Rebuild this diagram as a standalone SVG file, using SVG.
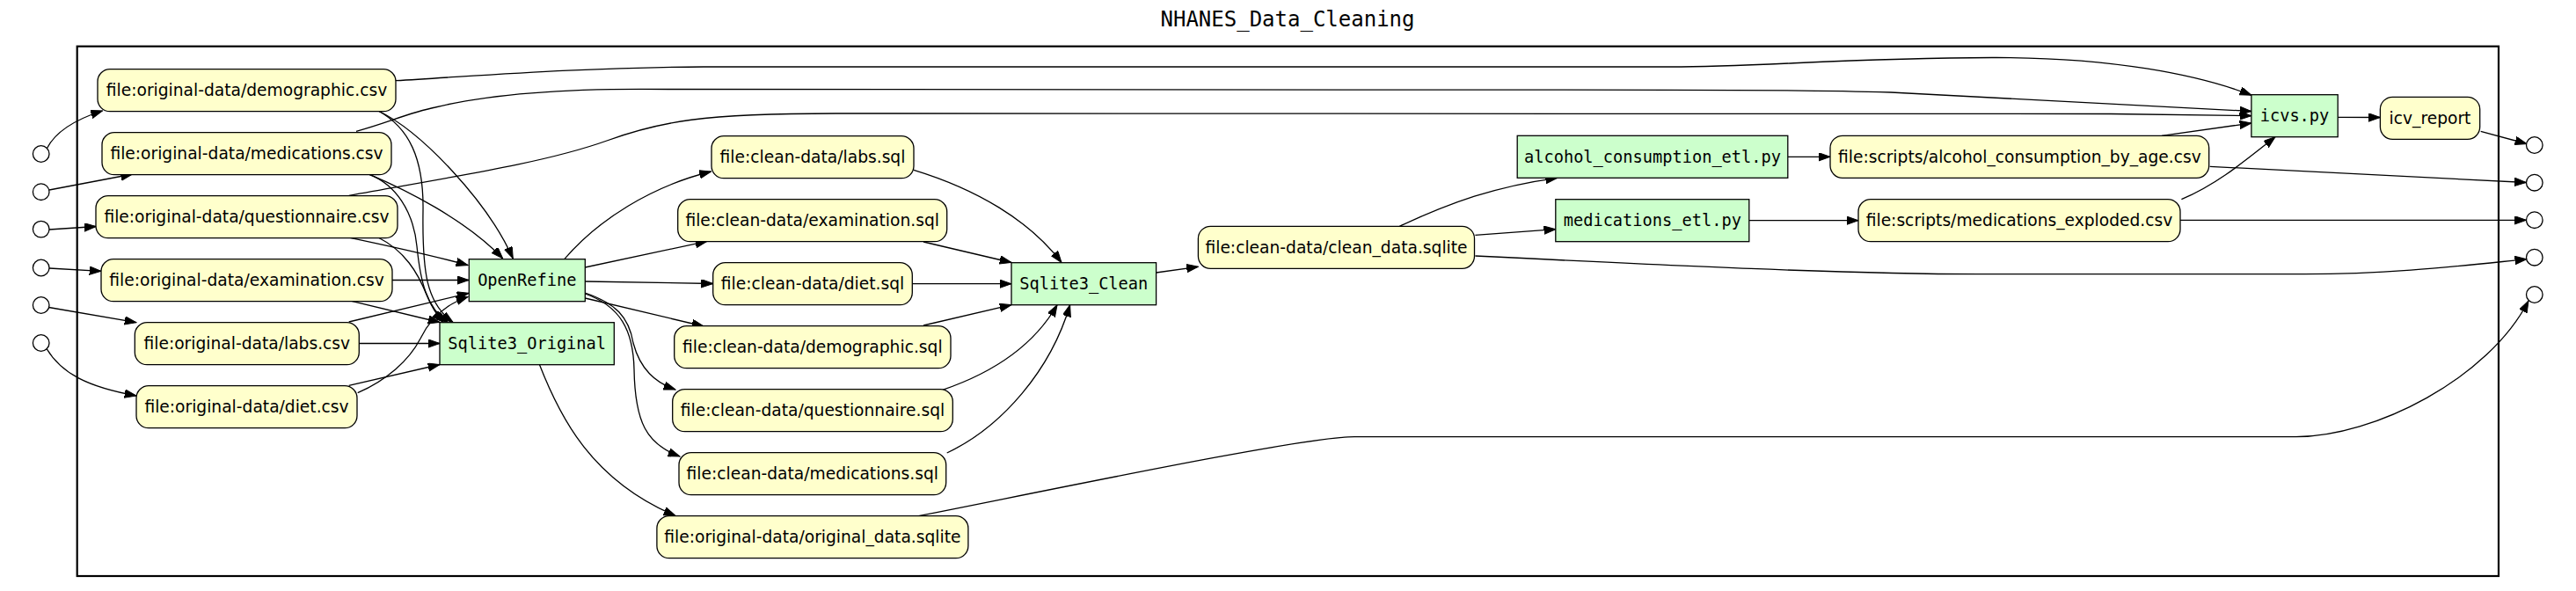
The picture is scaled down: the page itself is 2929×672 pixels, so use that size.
<svg xmlns="http://www.w3.org/2000/svg" width="2929" height="672" viewBox="0 0 2929 672">
<style>
.file rect{fill:#ffffcc;stroke:#000;stroke-width:1.3}
.proc rect{fill:#ccffcc;stroke:#000;stroke-width:1.3}
.port circle{fill:#fff;stroke:#000;stroke-width:1.3}
.file text{font-family:"DejaVu Sans",sans-serif;font-size:18.67px;text-anchor:middle;fill:#000}
.proc text{font-family:"DejaVu Sans Mono",monospace;font-size:18.67px;text-anchor:middle;fill:#000}
.title{font-family:"DejaVu Sans Mono",monospace;font-size:24px;text-anchor:middle;fill:#000}
#edges path{fill:none;stroke:#000;stroke-width:1.3;marker-end:url(#arr)}
</style>
<defs>
<marker id="arr" markerUnits="userSpaceOnUse" markerWidth="14" markerHeight="10" refX="13.3" refY="4.7" orient="auto">
<path d="M0,0 L13.3,4.7 L0,9.4 z" fill="#000" stroke="#000" stroke-width="1"/>
</marker>
</defs>
<rect width="2929" height="672" fill="#fff"/>
<text class="title" x="1464" y="30">NHANES_Data_Cleaning</text>
<rect id="cluster" x="87.7" y="52.7" width="2753.3" height="602.3" fill="none" stroke="#000" stroke-width="2.2"/>

<g id="edges">
<path d="M53.5,168.5 C62,152 82,137 116.5,126"/>
<path d="M56,216 L150.7,198"/>
<path d="M56,261 L109.3,257.5"/>
<path d="M56,305 L115,308.3"/>
<path d="M55.5,349.5 L155,366.7"/>
<path d="M52.7,396 C70,425 100,440 155,450"/>

<path d="M430,126 C480,150 555,230 583.3,294"/>
<path d="M420,198.3 C460,215 530,250 571.7,294"/>
<path d="M393.3,269.3 C430,277 490,290 532,301.5"/>
<path d="M446,318.5 L533,318.5"/>
<path d="M396.7,366 L533,333.3"/>
<path d="M406.7,446.7 C440,432 465,410 478,385 C490,360 510,345 532,337.5"/>

<path d="M430,126 C465,145 482,180 481,240 C480,310 485,345 515,366.5"/>
<path d="M420,198.3 C450,210 470,240 474,280 C478,320 485,350 509,366.5"/>
<path d="M430,270 C460,285 475,310 485,335 C492,352 498,360 504,366.5"/>
<path d="M396.7,341.7 L500,366.5"/>
<path d="M408.3,390.5 L500,390.5"/>
<path d="M396.7,438.3 L500,414.5"/>

<path d="M641.7,294.7 C680,250 740,212 808.5,195"/>
<path d="M665.3,304 L804,274.3"/>
<path d="M665.3,320 L810.7,322.5"/>
<path d="M665.3,339 L800,371"/>
<path d="M665.3,333 C700,345 715,360 720,390 C728,420 745,435 768,443"/>
<path d="M665.3,334 C705,348 720,375 721,420 C722,480 735,505 773,519"/>
<path d="M613.3,414.3 C635,470 670,545 768,586.5"/>

<path d="M1039,193.3 C1110,215 1170,250 1207,298.5"/>
<path d="M1050,275 L1150,298.5"/>
<path d="M1037.3,322.7 L1150,322.7"/>
<path d="M1050,370 L1150,346.7"/>
<path d="M1071.7,443.3 C1140,420 1180,385 1202,346.7"/>
<path d="M1076.7,515 C1140,485 1195,420 1216.6,346.7"/>

<path d="M1314.6,310 L1362.4,303.3"/>
<path d="M1591.3,257.3 C1650,230 1700,212 1770.7,202.3"/>
<path d="M1677.4,267.3 L1768.8,260.7"/>
<path d="M1677.4,291 C1900,302 2100,311.7 2250,311.7 L2620,311.7 C2720,311.7 2800,302 2872.8,294.7"/>
<path d="M2032.8,178.3 L2081,178.3"/>
<path d="M1988.8,250.7 L2113,250.7"/>
<path d="M2458,154.3 L2559.9,140"/>
<path d="M2512.7,189.3 L2872.5,207.5"/>
<path d="M2480.4,226.7 C2520,210 2550,185 2587,155.7"/>
<path d="M2479,250.3 L2872.5,250.3"/>
<path d="M2658.2,133.3 L2706.4,133.5"/>
<path d="M2820.7,149.3 L2873,163.5"/>
<path d="M1044.4,586.7 C1200,556 1480,497 1540,496.7 L2610,496.7 C2700,496.7 2830,430 2875,342"/>

<path d="M450,91.7 C550,86 650,77 800,76 L1900,76 C2000,76 2100,66 2265,65.5 C2400,65 2500,85 2560,108.3"/>
<path d="M405,149.3 C440,140 465,128 495,122 C560,106 650,100 760,101.5 L1900,102.3 C2000,102.3 2080,103 2150,105 L2559.9,126.5"/>
<path d="M396.7,222.3 C520,200 620,185 690,160 C750,138 800,129 950,129 L2400,129.5 L2559.9,131.7"/>
</g>

<g id="in1" class="port"><circle cx="46.7" cy="175" r="9.3"/></g>
<g id="in2" class="port"><circle cx="46.7" cy="218.2" r="9.3"/></g>
<g id="in3" class="port"><circle cx="46.7" cy="260.6" r="9.3"/></g>
<g id="in4" class="port"><circle cx="46.7" cy="304.5" r="9.3"/></g>
<g id="in5" class="port"><circle cx="46.7" cy="347" r="9.3"/></g>
<g id="in6" class="port"><circle cx="46.7" cy="390" r="9.3"/></g>
<g id="out1" class="port"><circle cx="2881.8" cy="165" r="9.3"/></g>
<g id="out2" class="port"><circle cx="2881.8" cy="207.7" r="9.3"/></g>
<g id="out3" class="port"><circle cx="2881.8" cy="250.2" r="9.3"/></g>
<g id="out4" class="port"><circle cx="2881.8" cy="292.7" r="9.3"/></g>
<g id="out5" class="port"><circle cx="2881.8" cy="335" r="9.3"/></g>

<g id="demographic_csv" class="file"><rect x="111" y="78.7" width="339" height="48" rx="14"/><text x="280.5" y="109.3">file:original-data/demographic.csv</text></g>
<g id="medications_csv" class="file"><rect x="116" y="150.7" width="329" height="48" rx="14"/><text x="280.5" y="181.3">file:original-data/medications.csv</text></g>
<g id="questionnaire_csv" class="file"><rect x="109" y="222.7" width="343" height="48" rx="14"/><text x="280.5" y="253.3">file:original-data/questionnaire.csv</text></g>
<g id="examination_csv" class="file"><rect x="115" y="294.7" width="331" height="48" rx="14"/><text x="280.5" y="325.3">file:original-data/examination.csv</text></g>
<g id="labs_csv" class="file"><rect x="153.3" y="366.7" width="255" height="48" rx="14"/><text x="280.8" y="397.3">file:original-data/labs.csv</text></g>
<g id="diet_csv" class="file"><rect x="155" y="438.7" width="251" height="48" rx="14"/><text x="280.5" y="469.3">file:original-data/diet.csv</text></g>

<g id="OpenRefine" class="proc"><rect x="533.3" y="294.7" width="132" height="48"/><text x="599.3" y="325.3">OpenRefine</text></g>
<g id="Sqlite3_Original" class="proc"><rect x="500" y="366.7" width="198.3" height="48"/><text x="599.2" y="397.3">Sqlite3_Original</text></g>

<g id="labs_sql" class="file"><rect x="809" y="154.7" width="230" height="48" rx="14"/><text x="924" y="185.3">file:clean-data/labs.sql</text></g>
<g id="examination_sql" class="file"><rect x="770.7" y="226.7" width="306" height="48" rx="14"/><text x="923.7" y="257.3">file:clean-data/examination.sql</text></g>
<g id="diet_sql" class="file"><rect x="810.7" y="298.7" width="226.6" height="48" rx="14"/><text x="924" y="329.3">file:clean-data/diet.sql</text></g>
<g id="demographic_sql" class="file"><rect x="766.7" y="370.7" width="314.3" height="48" rx="14"/><text x="923.8" y="401.3">file:clean-data/demographic.sql</text></g>
<g id="questionnaire_sql" class="file"><rect x="764.7" y="442.7" width="318.6" height="48" rx="14"/><text x="924" y="473.3">file:clean-data/questionnaire.sql</text></g>
<g id="medications_sql" class="file"><rect x="772" y="514.7" width="303.7" height="48" rx="14"/><text x="923.8" y="545.3">file:clean-data/medications.sql</text></g>
<g id="original_data_sqlite" class="file"><rect x="746.9" y="586.7" width="354" height="48" rx="14"/><text x="923.9" y="617.3">file:original-data/original_data.sqlite</text></g>

<g id="Sqlite3_Clean" class="proc"><rect x="1150" y="298.7" width="164.6" height="48"/><text x="1232.3" y="329.3">Sqlite3_Clean</text></g>
<g id="clean_data_sqlite" class="file"><rect x="1362.4" y="257.3" width="314.1" height="48" rx="14"/><text x="1519.5" y="287.9">file:clean-data/clean_data.sqlite</text></g>

<g id="alcohol_consumption_etl" class="proc"><rect x="1725.2" y="154.3" width="307.6" height="48"/><text x="1879" y="184.9">alcohol_consumption_etl.py</text></g>
<g id="medications_etl" class="proc"><rect x="1768.8" y="226.7" width="220" height="48"/><text x="1878.8" y="257.3">medications_etl.py</text></g>

<g id="alcohol_csv" class="file"><rect x="2081" y="154.3" width="430.7" height="48" rx="14"/><text x="2296.4" y="184.9">file:scripts/alcohol_consumption_by_age.csv</text></g>
<g id="medications_exploded_csv" class="file"><rect x="2113" y="226.7" width="366" height="48" rx="14"/><text x="2296" y="257.3">file:scripts/medications_exploded.csv</text></g>

<g id="icvs_py" class="proc"><rect x="2559.9" y="107.7" width="98.3" height="48"/><text x="2609" y="138.3">icvs.py</text></g>
<g id="icv_report" class="file"><rect x="2706.4" y="110.3" width="113.3" height="48" rx="14"/><text x="2763" y="140.9">icv_report</text></g>
</svg>
